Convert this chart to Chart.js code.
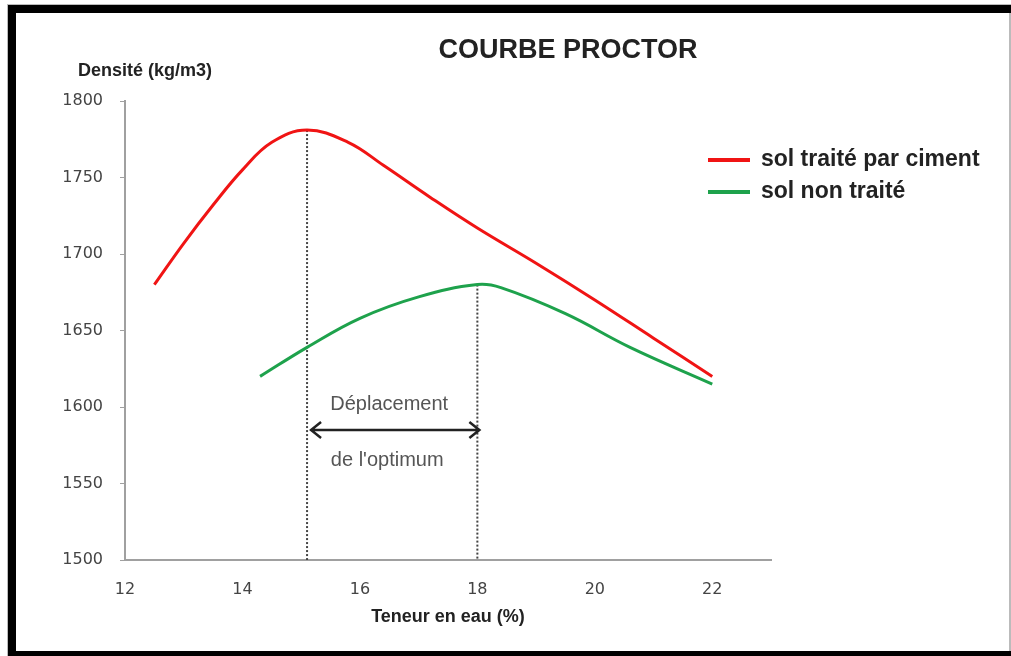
<!DOCTYPE html>
<html>
<head>
<meta charset="utf-8">
<script src="https://cdn.jsdelivr.net/npm/chart.js@4.4.1/dist/chart.umd.min.js"></script>
<style>
  html, body { margin: 0; padding: 0; background: #fff; }
  #proctorChart { display: block; }
</style>
</head>
<body>
<canvas id="proctorChart" width="1011" height="656"></canvas>
<script>
// teneur en eau (%) -> densité (kg/m3)
const treatedX = [12.5, 13, 13.5, 14, 14.5, 15.1, 15.8, 16.4, 17.2, 18, 19, 20, 21, 22];
const treatedY = [1680, 1707, 1732, 1755, 1773, 1781, 1773, 1758, 1737, 1717, 1694, 1670, 1645, 1620];
const untreatedX = [14.3, 15.1, 16, 17, 18, 18.4, 19.5, 20.6, 22];
const untreatedY = [1620, 1639, 1658, 1672, 1680, 1678, 1661, 1639, 1615];

const seriesLabels = ['sol traité par ciment', 'sol non traité'];
const xTicks = [12, 14, 16, 18, 20, 22];
const yTicks = [1500, 1550, 1600, 1650, 1700, 1750, 1800];

// optimums (traité / non traité) et flèche de déplacement
const optimumX = [15.1, 18];
const optimumY = [1781, 1680];
const arrowY = 1585;

function toPoints(xs, ys) {
    return xs.map((x, i) => ({ x: x, y: ys[i] }));
}

function guideLine(i) {
    return {
        isGuide: true,
        data: [{ x: optimumX[i], y: optimumY[i] }, { x: optimumX[i], y: yTicks[0] }],
        borderColor: '#444',
        borderWidth: 2,
        borderDash: [2, 2],
        pointRadius: 0,
        tension: 0,
        order: 5
    };
}

const framePlugin = {
    id: 'frame',
    beforeDraw(chart) {
        const ctx = chart.ctx;
        ctx.save();
        ctx.fillStyle = '#fff';
        ctx.fillRect(0, 0, chart.width, chart.height);
        ctx.fillStyle = '#bbb';
        ctx.fillRect(7, 4, 1004, 1);
        ctx.fillRect(7, 4, 1, 652);
        ctx.fillRect(1009, 12, 2, 640);
        ctx.fillStyle = '#000';
        ctx.fillRect(8, 5, 1003, 8);
        ctx.fillRect(8, 5, 8, 651);
        ctx.fillRect(8, 651, 1003, 5);
        ctx.restore();
    }
};

const textPlugin = {
    id: 'texts',
    afterDraw(chart) {
        const ctx = chart.ctx;
        const xs = chart.scales.x;
        const ys = chart.scales.y;
        ctx.save();

        ctx.fillStyle = '#222';
        ctx.textBaseline = 'middle';
        ctx.textAlign = 'center';
        ctx.font = 'bold 27px "Liberation Sans", Arial, sans-serif';
        ctx.fillText('COURBE PROCTOR', 568, 51);

        ctx.font = 'bold 18px "Liberation Sans", Arial, sans-serif';
        ctx.textAlign = 'left';
        ctx.fillText('Densité (kg/m3)', 78, 71);

        // flèche
        const x1 = xs.getPixelForValue(optimumX[0]) + 4;
        const x2 = xs.getPixelForValue(optimumX[1]) + 2;
        const ay = ys.getPixelForValue(arrowY);
        ctx.strokeStyle = '#222';
        ctx.lineWidth = 2.5;
        ctx.beginPath();
        ctx.moveTo(x1, ay);
        ctx.lineTo(x2, ay);
        ctx.moveTo(x1 + 10, ay - 8);
        ctx.lineTo(x1, ay);
        ctx.lineTo(x1 + 10, ay + 8);
        ctx.moveTo(x2 - 10, ay - 8);
        ctx.lineTo(x2, ay);
        ctx.lineTo(x2 - 10, ay + 8);
        ctx.stroke();

        ctx.fillStyle = '#555';
        ctx.textAlign = 'center';
        ctx.font = '20px "Liberation Sans", Arial, sans-serif';
        const mid = (x1 + x2) / 2;
        ctx.fillText('Déplacement', mid - 6, ay - 25);
        ctx.fillText("de l'optimum", mid - 8, ay + 31);

        // légende
        const series = chart.data.datasets.filter(ds => !ds.isGuide);
        ctx.font = 'bold 23px "Liberation Sans", Arial, sans-serif';
        ctx.textAlign = 'left';
        series.forEach((ds, i) => {
            const ly = 160 + i * 32;
            ctx.strokeStyle = ds.borderColor;
            ctx.lineWidth = 4;
            ctx.beginPath();
            ctx.moveTo(708, ly);
            ctx.lineTo(750, ly);
            ctx.stroke();
            ctx.fillStyle = '#222';
            ctx.fillText(ds.label, 761, ly);
        });

        ctx.restore();
    }
};

const ctx = document.getElementById('proctorChart').getContext('2d');
new Chart(ctx, {
    type: 'line',
    data: {
        datasets: [
            {
                label: seriesLabels[0],
                data: toPoints(treatedX, treatedY),
                borderColor: '#f01414',
                borderWidth: 3,
                pointRadius: 0,
                tension: 0.4,
                order: 1
            },
            {
                label: seriesLabels[1],
                data: toPoints(untreatedX, untreatedY),
                borderColor: '#1ea24c',
                borderWidth: 3,
                pointRadius: 0,
                tension: 0.4,
                order: 2
            },
            guideLine(0),
            guideLine(1)
        ]
    },
    options: {
        responsive: false,
        animation: false,
        layout: {
            padding: { top: 101, left: 60, right: 240, bottom: 0 }
        },
        plugins: {
            legend: { display: false },
            title: { display: false },
            tooltip: { enabled: false }
        },
        scales: {
            x: {
                type: 'linear',
                min: 12,
                max: 23,
                afterBuildTicks: scale => { scale.ticks = xTicks.map(v => ({ value: v })); },
                afterFit: scale => { scale.height = 96; },
                border: { color: '#a0a0a0', width: 2 },
                grid: { display: false, drawTicks: false },
                ticks: {
                    padding: 20,
                    color: '#444',
                    callback: v => String(v),
                    font: { family: '"DejaVu Sans", sans-serif', size: 16 }
                },
                title: {
                    display: true,
                    text: 'Teneur en eau (%)',
                    color: '#222',
                    padding: { top: 8, bottom: 28 },
                    font: { family: '"Liberation Sans", Arial, sans-serif', size: 18, weight: 'bold' }
                }
            },
            y: {
                type: 'linear',
                min: 1500,
                max: 1800,
                afterBuildTicks: scale => { scale.ticks = yTicks.map(v => ({ value: v })); },
                afterFit: scale => { scale.width = 65; },
                border: { color: '#a0a0a0', width: 2 },
                grid: { drawOnChartArea: false, drawTicks: true, tickLength: 5, color: '#a0a0a0' },
                ticks: {
                    padding: 17,
                    color: '#444',
                    callback: v => String(v),
                    font: { family: '"DejaVu Sans", sans-serif', size: 16 }
                }
            }
        }
    },
    plugins: [framePlugin, textPlugin]
});
</script>
</body>
</html>
